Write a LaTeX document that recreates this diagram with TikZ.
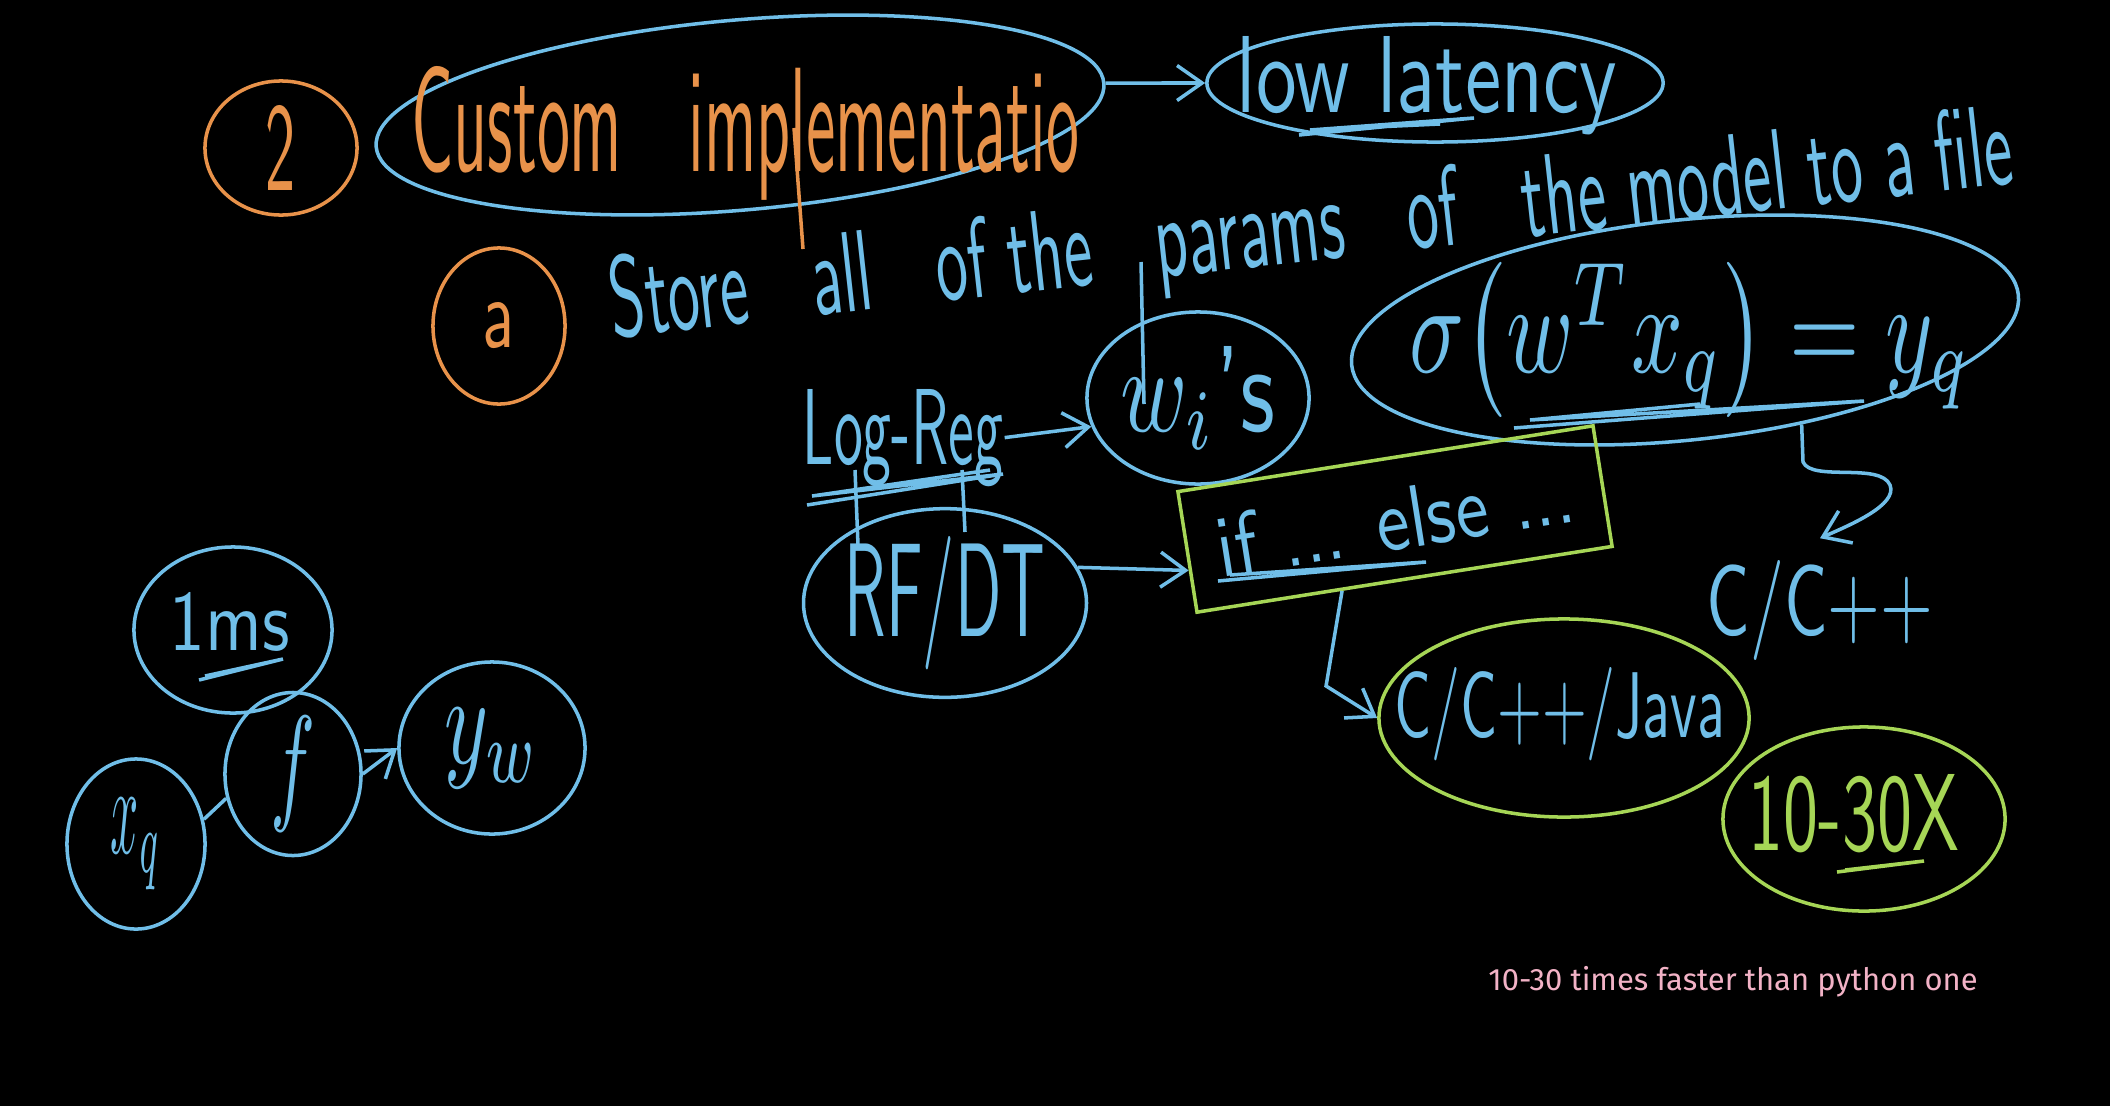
\documentclass[tikz,border=0pt]{standalone}
\usepackage{fontspec}
\usepackage{graphicx}
\usetikzlibrary{shapes.geometric,arrows.meta,calc}
\newfontfamily\notefont{Fira Sans}
\definecolor{chalkblue}{RGB}{112,190,232}
\definecolor{chalkorange}{RGB}{232,146,74}
\definecolor{chalkgreen}{RGB}{166,214,86}
\definecolor{notepink}{RGB}{242,178,198}
\newcommand{\hand}[3]{\resizebox{#1}{#2}{\sffamily #3}}
\tikzset{
  blob/.style={ellipse,draw,line width=1pt,inner sep=0pt},
  barb/.style={-{Straight Barb[length=2.5mm,width=3.5mm]}},
}

\begin{document}
\begin{tikzpicture}[
  x=0.01cm,y=-0.01cm,
  line width=1pt,
  hw/.style={inner sep=0pt,anchor=base west},
]
\fill[black] (0,0) rectangle (2110,1106);
\useasboundingbox (0,0) rectangle (2110,1106);

\node[blob,chalkorange,minimum width=1.52cm,minimum height=1.34cm] (two) at (281,148) {\hand{0.3cm}{0.85cm}{2}};
\node[blob,chalkblue,minimum width=7.3cm,minimum height=1.9cm,rotate=5] (custom) at (740,115) {};
\node[hw,chalkorange] (customtxt) at (410,171) {\hand{6.67cm}{1.05cm}{Custom\quad implementatio}};
\draw[chalkorange] (794,128) -- (803,249);

\node[blob,chalkblue,minimum width=4.56cm,minimum height=1.18cm] (lowlat) at (1435,83) {};
\node[hw,chalkblue] (lowlattxt) at (1235,112) {\hand{3.8cm}{0.76cm}{low latency}};
\draw[chalkblue] (1299,135) -- (1474,118) -- (1310,130) -- (1440,124);
\draw[chalkblue,barb] (custom.east) -- (lowlat.west);

\node[blob,chalkorange,minimum width=1.32cm,minimum height=1.56cm] (parta) at (499,326) {\hand{0.32cm}{0.45cm}{a}};
\node[hw,chalkblue,rotate=6.3] (store) at (612,338) {\hand{14.1cm}{0.82cm}{Store\quad all\quad of the\quad params\quad of\quad the model to a file}};
\draw[chalkblue] (1141,262) -- (1144,404);

\node[blob,chalkblue,minimum width=6.7cm,minimum height=2.2cm,rotate=6] (sigma) at (1685,330) {};
\node[chalkblue,inner sep=0pt] (sigmatxt) at (1690,340) {\resizebox{5.6cm}{1.1cm}{$\sigma\bigl(w^{T}x_q\bigr)=y_q$}};
\draw[chalkblue] (1514,428) -- (1864,401) -- (1530,420) -- (1700,404);

\node[hw,chalkblue] (logreg) at (801,464) {\hand{2.0cm}{0.75cm}{Log-Reg}};
\draw[chalkblue] (807,505) -- (1003,474) -- (812,496) -- (990,470);
\draw[chalkblue] (855,470) -- (858,545) (962,470) -- (965,532);
\node[blob,chalkblue,minimum width=2.22cm,minimum height=1.72cm] (wis) at (1198,398) {\hand{1.55cm}{0.85cm}{$w_i$'s}};
\draw[chalkblue,barb] (logreg.east) -- (wis.195);

\node[blob,chalkblue,minimum width=2.4cm,minimum height=1.7cm] (rfdt) at (945,603) {\hand{2.0cm}{1.0cm}{RF/DT}};
\node[draw=chalkgreen,text=chalkblue,rectangle,minimum width=4.2cm,minimum height=1.22cm,rotate=9,inner sep=0pt] (ifelse) at (1395,519) {\hand{3.6cm}{0.62cm}{if ... else ...}};
\draw[chalkblue] (1218,581) -- (1426,562) -- (1230,575);
\draw[chalkblue,barb] (rfdt.15) -- (ifelse.185);

\node[blob,chalkgreen,minimum width=3.7cm,minimum height=1.98cm] (java) at (1564,718) {};
\node[hw,chalkblue] (javatxt) at (1393,737) {\hand{3.3cm}{0.7cm}{C/C++/Java}};
\draw[chalkblue,barb] ($(ifelse.south west)!0.35!(ifelse.south east)$) -- ++(-16,95) -- (java.west);

\node[chalkblue,inner sep=0.2cm] (cpp) at (1820,610) {\hand{2.26cm}{0.75cm}{C/C++}};
\draw[chalkblue,barb] (sigma.-45) -- (1803,462) .. controls (1812,482) and (1880,462) .. (1890,485) .. controls (1898,505) and (1850,525) .. (cpp.north);

\node[blob,chalkgreen,minimum width=2.82cm,minimum height=1.84cm] (speed) at (1864,819) {};
\node[hw,chalkgreen] (speedtxt) at (1747,850) {\hand{2.1cm}{0.76cm}{10-30X}};
\draw[chalkgreen] (1837,872) -- (1924,861) -- (1845,870);

\node[blob,chalkblue,minimum width=1.98cm,minimum height=1.66cm] (onems) at (233,630) {};
\node[hw,chalkblue] (onemstxt) at (168,650) {\hand{1.2cm}{0.58cm}{1ms}};
\draw[chalkblue] (199,680) -- (283,659) -- (205,676);
\node[blob,chalkblue,minimum width=1.36cm,minimum height=1.48cm] (f) at (293,774) {\hand{0.45cm}{0.9cm}{$f$}};
\node[blob,chalkblue,minimum width=1.38cm,minimum height=1.7cm] (xq) at (136,844) {\hand{0.5cm}{0.55cm}{$x_q$}};
\node[blob,chalkblue,minimum width=1.86cm,minimum height=1.72cm] (yw) at (492,748) {\hand{0.95cm}{0.55cm}{$y_w$}};
\draw[chalkblue,barb] (f.east) -- (yw.west);
\draw[chalkblue] (xq.20) -- (f.200);

\node[text=notepink,font=\notefont\fontsize{8.8}{10}\selectfont,inner sep=0pt] (note) at (1733,982) {10-30 times faster than python one};
\end{tikzpicture}
\end{document}
